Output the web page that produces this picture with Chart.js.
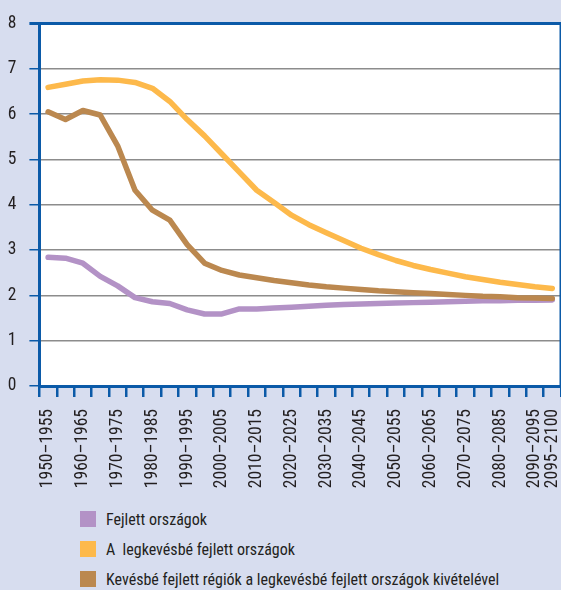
<!DOCTYPE html>
<html>
<head>
<meta charset="utf-8">
<script src="https://cdn.jsdelivr.net/npm/chart.js@4.4.1/dist/chart.umd.min.js"></script>
<style>
  html, body { margin: 0; padding: 0; background: #d7ddef; }
  body {
    width: 561px; height: 590px; overflow: hidden; position: relative;
    font-family: "Roboto Condensed", "DejaVu Sans Condensed", sans-serif;
    color: #231f20;
  }
  #wrap { position: absolute; left: 0; top: 0; width: 561px; height: 500px; }
  #legend { position: absolute; left: 80px; top: 504px; }
  .item { display: flex; align-items: center; height: 30px; font-size: 16px; white-space: pre; }
  .box { width: 16px; height: 16px; margin-right: 10px; flex: none; }
</style>
</head>
<body>
<div id="wrap"><canvas id="tfr-chart"></canvas></div>
<div id="legend"></div>
<script>
const periods = [
  '1950–1955', '1955–1960', '1960–1965', '1965–1970', '1970–1975', '1975–1980',
  '1980–1985', '1985–1990', '1990–1995', '1995–2000', '2000–2005', '2005–2010',
  '2010–2015', '2015–2020', '2020–2025', '2025–2030', '2030–2035', '2035–2040',
  '2040–2045', '2045–2050', '2050–2055', '2055–2060', '2060–2065', '2065–2070',
  '2070–2075', '2075–2080', '2080–2085', '2085–2090', '2090–2095', '2095–2100'
];

const developed = [
  2.84, 2.82, 2.71, 2.42, 2.21, 1.95, 1.86, 1.82, 1.68, 1.59,
  1.59, 1.70, 1.70, 1.72, 1.74, 1.76, 1.78, 1.80, 1.81, 1.82,
  1.83, 1.84, 1.85, 1.86, 1.87, 1.88, 1.88, 1.89, 1.89, 1.90
];

const leastDeveloped = [
  6.59, 6.66, 6.73, 6.76, 6.75, 6.70, 6.57, 6.28, 5.88, 5.52,
  5.12, 4.72, 4.32, 4.05, 3.77, 3.56, 3.38, 3.21, 3.04, 2.90,
  2.77, 2.66, 2.57, 2.49, 2.41, 2.35, 2.29, 2.24, 2.19, 2.15
];

const lessDevelopedExcl = [
  6.05, 5.88, 6.08, 5.98, 5.30, 4.32, 3.88, 3.66, 3.12, 2.71,
  2.55, 2.45, 2.39, 2.33, 2.28, 2.23, 2.19, 2.16, 2.13, 2.10,
  2.08, 2.06, 2.04, 2.02, 2.00, 1.98, 1.97, 1.95, 1.94, 1.93
];

const seriesNames = [
  'Fejlett országok',
  'A  legkevésbé fejlett országok',
  'Kevésbé fejlett régiók a legkevésbé fejlett országok kivételével'
];

const yTicks = [0, 1, 2, 3, 4, 5, 6, 7, 8];

const BLUE = '#0b5aa8';
const FONT = '"Roboto Condensed", "DejaVu Sans Condensed", sans-serif';

// white plot area plus the blue right-hand frame line
const framePlugin = {
  id: 'frame',
  beforeDraw(chart) {
    const { ctx, chartArea: a } = chart;
    ctx.save();
    ctx.fillStyle = '#ffffff';
    ctx.fillRect(a.left, a.top, a.right - a.left, a.bottom - a.top);
    ctx.restore();
  },
  afterDraw(chart) {
    const { ctx, chartArea: a } = chart;
    ctx.save();
    ctx.strokeStyle = BLUE;
    ctx.lineWidth = 3;
    ctx.beginPath();
    ctx.moveTo(a.right, a.top - 1.5);
    ctx.lineTo(a.right, a.bottom);
    ctx.stroke();
    ctx.restore();
  }
};

const ctx = document.getElementById('tfr-chart').getContext('2d');

const chart = new Chart(ctx, {
  type: 'line',
  data: {
    labels: periods,
    datasets: [
      { label: seriesNames[0], data: developed,         borderColor: '#b392c6', backgroundColor: '#b392c6', order: 3 },
      { label: seriesNames[1], data: leastDeveloped,    borderColor: '#fdb94b', backgroundColor: '#fdb94b', order: 2 },
      { label: seriesNames[2], data: lessDevelopedExcl, borderColor: '#bb884f', backgroundColor: '#bb884f', order: 1 }
    ].map(d => Object.assign(d, {
      borderWidth: 5.5,
      pointRadius: 0,
      tension: 0,
      borderCapStyle: 'round',
      borderJoinStyle: 'round',
      fill: false
    }))
  },
  options: {
    responsive: true,
    maintainAspectRatio: false,
    animation: false,
    layout: { padding: { left: 8, right: -3, top: 15, bottom: 0 } },
    plugins: {
      legend: { display: false },
      tooltip: { enabled: false }
    },
    scales: {
      x: {
        type: 'category',
        offset: true,
        border: { color: BLUE, width: 3 },
        grid: {
          offset: true,
          drawOnChartArea: false,
          tickColor: BLUE,
          tickLength: 11,
          lineWidth: 2.5
        },
        ticks: {
          autoSkip: false,
          maxRotation: 90,
          minRotation: 90,
          padding: 12,
          color: '#231f20',
          font: { family: FONT, size: 17.5 },
          callback: (val, idx) => (idx % 2 === 0 || idx === periods.length - 1) ? periods[idx] : ''
        },
        afterFit: scale => { scale.paddingLeft = 0; scale.paddingRight = 0; scale.height = 114; }
      },
      y: {
        min: yTicks[0],
        max: yTicks[yTicks.length - 1],
        border: { color: BLUE, width: 3 },
        grid: {
          color: c => c.tick && c.tick.value === 8 ? BLUE : '#8c8c8c',
          lineWidth: c => c.tick && c.tick.value === 8 ? 3 : 1.5,
          tickColor: BLUE,
          tickLength: 10
        },
        ticks: {
          stepSize: 1,
          padding: 13,
          color: '#231f20',
          font: { family: FONT, size: 17.5 }
        },
        afterFit: scale => { scale.width = 31.4; }
      }
    }
  },
  plugins: [framePlugin]
});

// vertical legend under the chart, built from the datasets
const legendEl = document.getElementById('legend');
chart.data.datasets.forEach(ds => {
  const row = document.createElement('div');
  row.className = 'item';
  const box = document.createElement('span');
  box.className = 'box';
  box.style.background = ds.borderColor;
  const txt = document.createElement('span');
  txt.textContent = ds.label;
  row.appendChild(box);
  row.appendChild(txt);
  legendEl.appendChild(row);
});
</script>
</body>
</html>
